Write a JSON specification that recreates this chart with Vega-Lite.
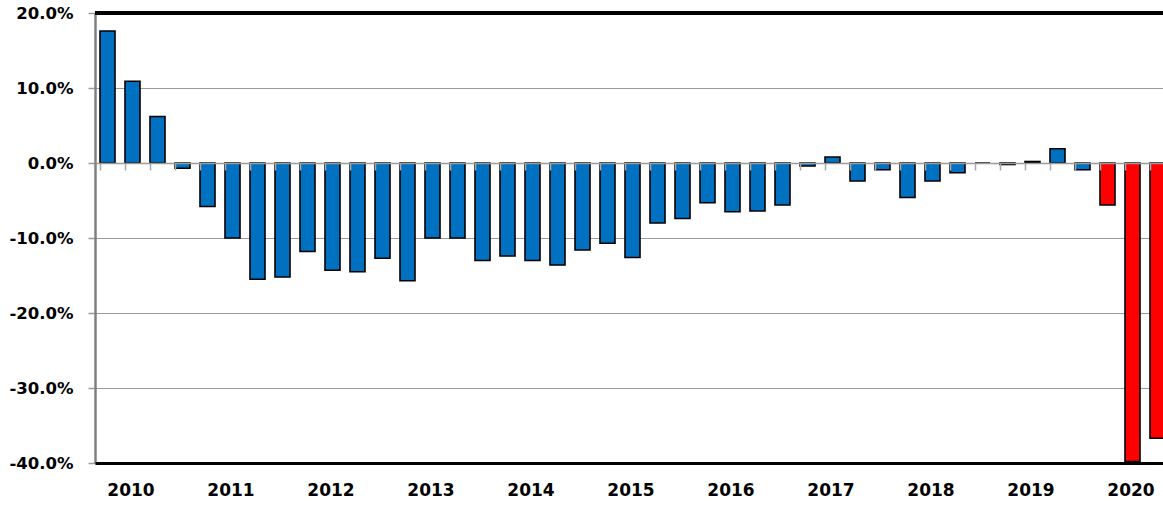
{
  "$schema": "https://vega.github.io/schema/vega-lite/v6.json",
  "autosize": {"type": "none"},
  "width": 1068,
  "height": 450,
  "padding": {"left": 95, "top": 13, "right": 0, "bottom": 42},
  "background": "white",
  "config": {"view": {"stroke": null}, "font": "DejaVu Sans"},
  "data": {"values": [
    {"q": "2010Q1", "v": 0.176, "type": "actual"},
    {"q": "2010Q2", "v": 0.109, "type": "actual"},
    {"q": "2010Q3", "v": 0.062, "type": "actual"},
    {"q": "2010Q4", "v": -0.007, "type": "actual"},
    {"q": "2011Q1", "v": -0.058, "type": "actual"},
    {"q": "2011Q2", "v": -0.100, "type": "actual"},
    {"q": "2011Q3", "v": -0.155, "type": "actual"},
    {"q": "2011Q4", "v": -0.152, "type": "actual"},
    {"q": "2012Q1", "v": -0.118, "type": "actual"},
    {"q": "2012Q2", "v": -0.143, "type": "actual"},
    {"q": "2012Q3", "v": -0.145, "type": "actual"},
    {"q": "2012Q4", "v": -0.127, "type": "actual"},
    {"q": "2013Q1", "v": -0.157, "type": "actual"},
    {"q": "2013Q2", "v": -0.100, "type": "actual"},
    {"q": "2013Q3", "v": -0.100, "type": "actual"},
    {"q": "2013Q4", "v": -0.130, "type": "actual"},
    {"q": "2014Q1", "v": -0.124, "type": "actual"},
    {"q": "2014Q2", "v": -0.130, "type": "actual"},
    {"q": "2014Q3", "v": -0.136, "type": "actual"},
    {"q": "2014Q4", "v": -0.116, "type": "actual"},
    {"q": "2015Q1", "v": -0.107, "type": "actual"},
    {"q": "2015Q2", "v": -0.126, "type": "actual"},
    {"q": "2015Q3", "v": -0.080, "type": "actual"},
    {"q": "2015Q4", "v": -0.074, "type": "actual"},
    {"q": "2016Q1", "v": -0.053, "type": "actual"},
    {"q": "2016Q2", "v": -0.065, "type": "actual"},
    {"q": "2016Q3", "v": -0.064, "type": "actual"},
    {"q": "2016Q4", "v": -0.056, "type": "actual"},
    {"q": "2017Q1", "v": -0.004, "type": "actual"},
    {"q": "2017Q2", "v": 0.008, "type": "actual"},
    {"q": "2017Q3", "v": -0.024, "type": "actual"},
    {"q": "2017Q4", "v": -0.009, "type": "actual"},
    {"q": "2018Q1", "v": -0.046, "type": "actual"},
    {"q": "2018Q2", "v": -0.024, "type": "actual"},
    {"q": "2018Q3", "v": -0.013, "type": "actual"},
    {"q": "2018Q4", "v": 0.0, "type": "actual"},
    {"q": "2019Q1", "v": -0.002, "type": "actual"},
    {"q": "2019Q2", "v": 0.002, "type": "actual"},
    {"q": "2019Q3", "v": 0.019, "type": "actual"},
    {"q": "2019Q4", "v": -0.009, "type": "actual"},
    {"q": "2020Q1", "v": -0.056, "type": "forecast"},
    {"q": "2020Q2", "v": -0.398, "type": "forecast"},
    {"q": "2020Q3", "v": -0.367, "type": "forecast"}
  ]},
  "layer": [
    {
      "mark": {"type": "bar", "stroke": "black", "strokeWidth": 1.6},
      "encoding": {
        "x": {
          "field": "q", "type": "ordinal", "sort": null,
          "scale": {"range": [0, 1075], "paddingInner": 0.4, "paddingOuter": 0.2},
          "axis": {
            "orient": "bottom", "title": null, "labelAngle": 0,
            "labelExpr": "indexof(datum.value, 'Q2') > 0 ? slice(datum.value, 0, 4) : ''",
            "ticks": false, "grid": false,
            "domainColor": "black", "domainWidth": 3,
            "labelFont": "DejaVu Sans", "labelFontWeight": "bold", "labelFontSize": 17,
            "labelColor": "black", "labelPadding": 19, "labelOffset": -1.5,
            "labelOverlap": false, "labelBound": false, "zindex": 1
          }
        },
        "y": {
          "field": "v", "type": "quantitative",
          "scale": {"domain": [-0.4, 0.2], "nice": false, "zero": false},
          "axis": {
            "title": null, "values": [-0.4, -0.3, -0.2, -0.1, 0, 0.1, 0.2], "format": ".1%",
            "labelExpr": "replace(datum.label, '\u2212', '-')",
            "grid": true, "gridColor": "#9a9a9a", "gridWidth": 1.2,
            "domainColor": "#808080", "domainWidth": 2.5,
            "tickColor": "#9a9a9a", "tickSize": 7, "tickWidth": 1.5,
            "labelFont": "DejaVu Sans", "labelFontSize": 16.5, "labelFontWeight": "bold",
            "labelColor": "black", "labelPadding": 15
          }
        },
        "color": {
          "field": "type", "type": "nominal",
          "scale": {"domain": ["actual", "forecast"], "range": ["#0070C0", "#FF0000"]},
          "legend": null
        }
      }
    },
    {
      "mark": {"type": "rule", "opacity": 0},
      "encoding": {
        "x": {
          "field": "q", "type": "ordinal", "sort": null,
          "axis": {
            "orient": "bottom", "offset": -300, "labels": false, "title": null, "grid": false,
            "domainColor": "#9a9a9a", "domainWidth": 1.5,
            "tickColor": "#aaaaaa", "tickSize": 7, "tickWidth": 1.5,
            "bandPosition": 0, "zindex": 1
          }
        },
        "y": {"datum": 0},
        "y2": {"datum": 0}
      }
    },
    {
      "mark": {"type": "rule", "color": "black", "strokeWidth": 3},
      "encoding": {"y": {"datum": 0.2}}
    }
  ],
  "resolve": {"axis": {"x": "independent"}}
}
